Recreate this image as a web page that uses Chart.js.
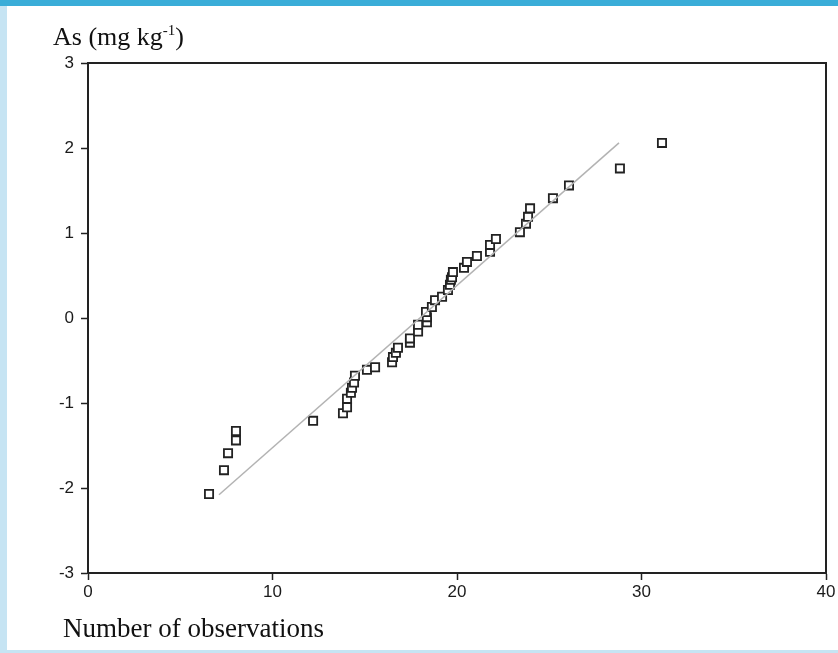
<!DOCTYPE html>
<html>
<head>
<meta charset="utf-8">
<script src="https://cdn.jsdelivr.net/npm/chart.js@4/dist/chart.umd.min.js"></script>
<style>
  html, body { margin: 0; padding: 0; background: #fff; }
  canvas { display: block; }
</style>
</head>
<body>
<canvas id="qqChart" width="838" height="653"></canvas>
<script>
// observations (x) and As values (y)
const obsX = [6.56, 7.37, 7.59, 8.02, 8.02, 12.2, 13.82, 14.04, 14.04, 14.25, 14.31, 14.42, 14.47,
  15.12, 15.56, 16.48, 16.53, 16.69, 16.8, 17.45, 17.45, 17.89, 17.89, 18.37, 18.37, 18.32,
  18.64, 18.81, 19.19, 19.51, 19.62, 19.67, 19.73, 19.78, 20.38, 20.54, 21.08, 21.79, 21.79,
  22.11, 23.41, 23.74, 23.85, 23.96, 25.2, 26.07, 28.83, 31.11];
const asY = [-2.07, -1.79, -1.59, -1.44, -1.33, -1.21, -1.12, -1.05, -0.95, -0.88, -0.82, -0.76, -0.68,
  -0.61, -0.58, -0.52, -0.46, -0.41, -0.35, -0.29, -0.24, -0.16, -0.08, -0.05, 0.01, 0.07,
  0.13, 0.21, 0.25, 0.33, 0.39, 0.45, 0.48, 0.54, 0.59, 0.66, 0.73, 0.78, 0.86,
  0.93, 1.01, 1.11, 1.19, 1.29, 1.41, 1.56, 1.76, 2.06];

// reference line end points
const lineX = [7.1, 28.78];
const lineY = [-2.08, 2.06];

const xTicks = [0, 10, 20, 30, 40];
const yTicks = [-3, -2, -1, 0, 1, 2, 3];

const ink = "#222";
const serif = "'Liberation Serif', 'DejaVu Serif', serif";

Chart.defaults.font.family = "'Liberation Sans', Arial, sans-serif";
Chart.defaults.font.size = 17;
Chart.defaults.color = "#1a1a1a";

const framePlugin = {
  id: "frame",
  beforeDraw(chart) {
    const ctx = chart.ctx;
    ctx.save();
    ctx.fillStyle = "#fff";
    ctx.fillRect(0, 0, chart.width, chart.height);
    ctx.fillStyle = "#3aadd8";
    ctx.fillRect(0, 0, chart.width, 6);
    ctx.fillStyle = "#c6e4f3";
    ctx.fillRect(0, 6, 7, chart.height - 6);
    ctx.fillRect(0, 650, chart.width, 3);
    ctx.restore();
  },
  afterDraw(chart) {
    const ctx = chart.ctx;
    const a = chart.chartArea;
    ctx.save();
    ctx.strokeStyle = ink;
    ctx.lineWidth = 2;
    ctx.strokeRect(a.left, a.top, a.right - a.left, a.bottom - a.top);

    ctx.fillStyle = "#111";
    ctx.textBaseline = "alphabetic";
    ctx.textAlign = "left";
    ctx.font = "26px " + serif;
    let x = 53;
    const base = 45;
    ctx.fillText("As (mg kg", x, base);
    x += ctx.measureText("As (mg kg").width;
    ctx.font = "15px " + serif;
    ctx.fillText("-1", x, base - 10);
    x += ctx.measureText("-1").width;
    ctx.font = "26px " + serif;
    ctx.fillText(")", x, base);

    ctx.font = "27px " + serif;
    ctx.fillText("Number of observations", 63, 637);
    ctx.restore();
  }
};

new Chart(document.getElementById("qqChart"), {
  data: {
    datasets: [
      {
        type: "line",
        data: lineX.map((v, i) => ({ x: v, y: lineY[i] })),
        borderColor: "#b3b3b3",
        borderWidth: 1.5,
        pointRadius: 0,
        fill: false
      },
      {
        type: "scatter",
        data: obsX.map((v, i) => ({ x: v, y: asY[i] })),
        pointStyle: "rect",
        pointRadius: 5.8,
        borderWidth: 1.8,
        borderColor: ink,
        backgroundColor: "#fff"
      }
    ]
  },
  options: {
    responsive: false,
    animation: false,
    layout: { padding: { top: 63, right: 12, bottom: 50, left: 0 } },
    plugins: {
      legend: { display: false },
      tooltip: { enabled: false }
    },
    scales: {
      x: {
        type: "linear",
        min: 0,
        max: 40,
        afterBuildTicks: s => { s.ticks = xTicks.map(v => ({ value: v })); },
        afterFit: s => { s.height = 30; },
        ticks: { padding: 2 },
        grid: { drawOnChartArea: false, tickLength: 7, color: ink, tickWidth: 1.5 },
        border: { color: ink, width: 2 }
      },
      y: {
        type: "linear",
        min: -3,
        max: 3,
        afterBuildTicks: s => { s.ticks = yTicks.map(v => ({ value: v })); },
        afterFit: s => { s.width = 88; },
        ticks: { padding: 7 },
        grid: { drawOnChartArea: false, tickLength: 7, color: ink, tickWidth: 1.5 },
        border: { color: ink, width: 2 }
      }
    }
  },
  plugins: [framePlugin]
});
</script>
</body>
</html>
